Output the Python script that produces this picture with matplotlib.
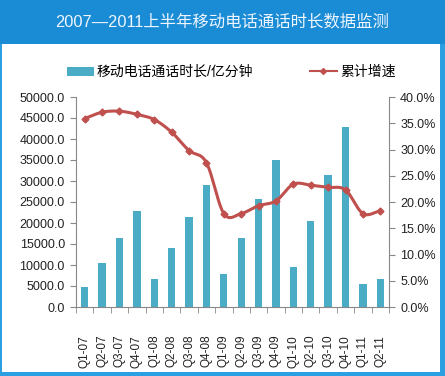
import numpy as np
import matplotlib
matplotlib.use("Agg")
import matplotlib.pyplot as plt
from matplotlib.patches import Rectangle
from matplotlib.lines import Line2D

categories = ["Q1-07", "Q2-07", "Q3-07", "Q4-07", "Q1-08", "Q2-08", "Q3-08", "Q4-08",
              "Q1-09", "Q2-09", "Q3-09", "Q4-09", "Q1-10", "Q2-10", "Q3-10", "Q4-10",
              "Q1-11", "Q2-11"]
duration = [4800, 10500, 16400, 22900, 6700, 14100, 21500, 29100,
            7800, 16400, 25600, 35000, 9600, 20500, 31400, 42900,
            5500, 6700]
growth = [35.9, 37.1, 37.3, 36.7, 35.7, 33.3, 29.8, 27.5,
          17.8, 17.8, 19.3, 20.2, 23.4, 23.2, 22.8, 22.3,
          17.8, 18.3]
left_ticks = [0, 5000, 10000, 15000, 20000, 25000, 30000, 35000, 40000, 45000, 50000]
right_ticks = [0, 5, 10, 15, 20, 25, 30, 35, 40]
title = "2007—2011上半年移动电话通话时长数据监测"
bar_label = "移动电话通话时长/亿分钟"
line_label = "累计增速"

plt.rcParams['font.family'] = ['Liberation Sans', 'Noto Sans CJK SC', 'DejaVu Sans']

W, H = 445, 376
fig = plt.figure(figsize=(W / 100, H / 100), dpi=100)
fig.patch.set_facecolor('#2c9ee2')

def fx(x):
    return x / W

def fy(y):
    return 1 - y / H

# white panel
fig.patches.append(Rectangle((fx(2), fy(372)), fx(440) - fx(2), fy(44) - fy(372),
                             transform=fig.transFigure, facecolor='white', edgecolor='none', zorder=-10))
# header band
fig.patches.append(Rectangle((0, fy(44)), 1, 1 - fy(44),
                             transform=fig.transFigure, facecolor='#1a8bd5', edgecolor='none', zorder=-10))
fig.text(fx(222), fy(22), title, color='#eef6ff', fontsize=11.8, ha='center', va='center',
         family=['Liberation Sans', 'Noto Sans CJK SC'])

ax = fig.add_axes([fx(76), fy(307), fx(389) - fx(76), fy(97) - fy(307)])
ax.set_facecolor('none')
x = np.arange(len(categories))
ax.bar(x, duration, width=0.42, color='#4bacc6', zorder=2)
ax.set_xlim(-0.5, len(categories) - 0.5)
ax.set_ylim(0, 50000)
ax.set_yticks(left_ticks)
ax.set_yticklabels([f"{v:.1f}" for v in left_ticks], fontsize=9, color='#222222')
ax.set_xticks(x)
ax.set_xticklabels(categories, rotation=90, fontsize=8.5, color='#222222')
ax.tick_params(axis='x', length=0, pad=20)
ax.set_xticks(np.arange(-0.5, len(categories), 1), minor=True)
ax.tick_params(axis='x', which='minor', length=4, color='#888888', direction='out')
ax.tick_params(axis='y', length=4, color='#888888', direction='out', pad=4)
for s in ['top', 'right']:
    ax.spines[s].set_visible(False)
for s in ['left', 'bottom']:
    ax.spines[s].set_color('#888888')

ax2 = ax.twinx()
ax2.set_ylim(0, 40)
ax2.set_yticks(right_ticks)
ax2.set_yticklabels([f"{v:.1f}%" for v in right_ticks], fontsize=9, color='#222222')
ax2.tick_params(axis='y', length=4, color='#888888', direction='out', pad=4)
for s in ['top', 'left', 'bottom']:
    ax2.spines[s].set_visible(False)
ax2.spines['right'].set_color('#888888')

# smoothed line (Catmull-Rom through data points)
def catmull(xs, ys, n=20):
    px = np.concatenate([[2 * xs[0] - xs[1]], xs, [2 * xs[-1] - xs[-2]]])
    py = np.concatenate([[2 * ys[0] - ys[1]], ys, [2 * ys[-1] - ys[-2]]])
    ox, oy = [], []
    for i in range(1, len(px) - 2):
        t = np.linspace(0, 1, n, endpoint=False)
        for P, out in ((px, ox), (py, oy)):
            p0, p1, p2, p3 = P[i - 1], P[i], P[i + 1], P[i + 2]
            out.extend(0.5 * ((2 * p1) + (-p0 + p2) * t + (2 * p0 - 5 * p1 + 4 * p2 - p3) * t ** 2
                              + (-p0 + 3 * p1 - 3 * p2 + p3) * t ** 3))
    ox.append(xs[-1]); oy.append(ys[-1])
    return np.array(ox), np.array(oy)

sx, sy = catmull(x.astype(float), np.array(growth, dtype=float))
ax2.plot(sx, sy, color='#c0504d', lw=2.2, zorder=3, solid_capstyle='round')
ax2.plot(x, growth, linestyle='none', marker='D', markersize=3.5, color='#c0504d', zorder=4)

# legend
h1 = Rectangle((0, 0), 1, 1, facecolor='#4bacc6')
h2 = Line2D([], [], color='#c0504d', lw=1.5, marker='D', markersize=3)
fig.legend([h1], [bar_label], loc='center left', bbox_to_anchor=(fx(54), fy(72)),
           frameon=False, handlelength=2.0, handleheight=0.6, handletextpad=0.2,
           prop={'family': ['Liberation Sans', 'Noto Sans CJK SC'], 'size': 10})
fig.legend([h2], [line_label], loc='center left', bbox_to_anchor=(fx(297), fy(72)),
           frameon=False, handlelength=2.0, handletextpad=0.2,
           prop={'family': ['Liberation Sans', 'Noto Sans CJK SC'], 'size': 10})

fig.savefig('out.png', dpi=100, facecolor=fig.get_facecolor())
